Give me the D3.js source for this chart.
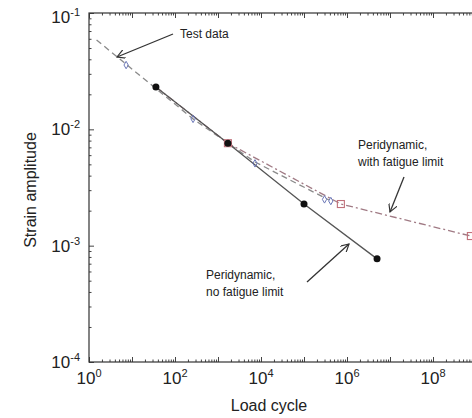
<!DOCTYPE html>
<html lang="en">
<head>
<meta charset="utf-8">
<title>Strain amplitude vs load cycle</title>
<style>
  body { margin: 0; background: #fff; }
  svg { display: block; font-family: "Liberation Sans", Arial, sans-serif; }
  .frame { fill: none; stroke: #333; stroke-width: 1.2px; }
  .tick line { stroke: #444; }
  .domain { display: none; }
  .ticklab { font-size: 17px; fill: #222; }
  .note { font-size: 12px; fill: #222; }
  .axlab { font-size: 16px; fill: #222; }
</style>
<script src="https://d3js.org/d3.v7.min.js"></script>
</head>
<body>
<script>
// Peridynamic, no fatigue limit (solid line, black dots)
const cyclesNoLimit = [36, 1700, 1.0e5, 5.0e6];
const strainNoLimit = [0.0231, 0.0076, 0.00228, 0.00077];

// Peridynamic, with fatigue limit (dash-dot, red squares)
const cyclesLimit = [36, 1700, 7.2e5, 7.6e8];
const strainLimit = [0.0231, 0.0076, 0.00228, 0.00121];
const cyclesLimitMarks = [1700, 7.2e5, 7.6e8];
const strainLimitMarks = [0.0076, 0.00228, 0.00121];

// Test data fit (grey dashed) and test points
const cyclesFit = [1.5, 7.7, 263, 7250, 3.8e5];
const strainFit = [0.0586, 0.0357, 0.0123, 0.00524, 0.00247];
const cyclesTest = [7.3, 263, 7250, 3.0e5, 4.2e5];
const strainTest = [0.0357, 0.0123, 0.0051, 0.0025, 0.00242];

const xMajor = [1, 1e2, 1e4, 1e6, 1e8];
const xMajorExp = ["0", "2", "4", "6", "8"];
const yMajor = [1e-1, 1e-2, 1e-3, 1e-4];
const yMajorExp = ["-1", "-2", "-3", "-4"];

const width = 472, height = 418;
const svg = d3.select("body").append("svg")
    .attr("width", width)
    .attr("height", height);

const x = d3.scaleLog().domain([1, 1e10]).range([89, 519]);
const y = d3.scaleLog().domain([1e-4, 1e-1]).range([362, 13]);

// tick positions
const xDec = d3.range(0, 11).map(e => Math.pow(10, e));
const xMinor = [];
xDec.slice(0, 10).forEach(d => { for (let k = 2; k <= 9; k++) xMinor.push(d * k); });
const yDec = [1e-4, 1e-3, 1e-2, 1e-1];
const yMinor = [];
yDec.slice(0, 3).forEach(d => { for (let k = 2; k <= 9; k++) yMinor.push(d * k); });

const y0 = y.range()[0], y1 = y.range()[1], x0 = x.range()[0], x1 = x.range()[1];

function ticks(g, axis) { g.call(axis).call(s => s.selectAll("text").remove()); }

svg.append("g").attr("transform", `translate(0,${y0})`)
    .call(ticks, d3.axisBottom(x).tickValues(xMinor).tickSize(-2.5));
svg.append("g").attr("transform", `translate(0,${y0})`)
    .call(ticks, d3.axisBottom(x).tickValues(xDec).tickSize(-5));
svg.append("g").attr("transform", `translate(0,${y1})`)
    .call(ticks, d3.axisTop(x).tickValues(xMinor).tickSize(-2.5));
svg.append("g").attr("transform", `translate(0,${y1})`)
    .call(ticks, d3.axisTop(x).tickValues(xDec).tickSize(-5));
svg.append("g").attr("transform", `translate(${x0},0)`)
    .call(ticks, d3.axisLeft(y).tickValues(yMinor).tickSize(-2.5));
svg.append("g").attr("transform", `translate(${x0},0)`)
    .call(ticks, d3.axisLeft(y).tickValues(yDec).tickSize(-5));

svg.append("rect").attr("class", "frame")
    .attr("x", x0).attr("y", y1)
    .attr("width", x1 - x0).attr("height", y0 - y1);

// tick labels with superscripts
xMajor.forEach((v, i) => {
  const t = svg.append("text").attr("class", "ticklab")
      .attr("x", x(v)).attr("y", 384).attr("text-anchor", "middle");
  t.append("tspan").text("10");
  t.append("tspan").attr("dy", -7).style("font-size", "11px").text(xMajorExp[i]);
});
yMajor.forEach((v, i) => {
  const t = svg.append("text").attr("class", "ticklab")
      .attr("x", 80).attr("y", y(v) + (i === 0 ? 10 : 6)).attr("text-anchor", "end");
  t.append("tspan").text("10");
  t.append("tspan").attr("dy", -7).style("font-size", "11px").text(yMajorExp[i]);
});

// axis titles
svg.append("text").attr("class", "axlab")
    .attr("x", 269).attr("y", 411).attr("text-anchor", "middle").text("Load cycle");
svg.append("text").attr("class", "axlab")
    .attr("transform", "translate(36,190) rotate(-90)")
    .attr("text-anchor", "middle").text("Strain amplitude");

const line = d3.line().x(d => x(d[0])).y(d => y(d[1]));
const zip = (a, b) => a.map((v, i) => [v, b[i]]);

const plot = svg.append("g");

plot.append("path").datum(zip(cyclesFit, strainFit))
    .attr("d", line).attr("fill", "none")
    .attr("stroke", "#8a8a8a").attr("stroke-width", 1.3)
    .attr("stroke-dasharray", "6,4");

plot.append("path").datum(zip(cyclesLimit, strainLimit))
    .attr("d", line).attr("fill", "none")
    .attr("stroke", "#a07a84").attr("stroke-width", 1.3)
    .attr("stroke-dasharray", "7,3,2,3");

plot.append("path").datum(zip(cyclesNoLimit, strainNoLimit))
    .attr("d", line).attr("fill", "none")
    .attr("stroke", "#555").attr("stroke-width", 1.3);

plot.selectAll(".test").data(zip(cyclesTest, strainTest)).enter()
    .append("path").attr("class", "test")
    .attr("transform", d => `translate(${x(d[0])},${y(d[1])})`)
    .attr("d", d3.symbol(d3.symbolDiamond, 16))
    .attr("fill", "none").attr("stroke", "#6c78b8").attr("stroke-width", 1);

plot.selectAll(".sq").data(zip(cyclesLimitMarks, strainLimitMarks)).enter()
    .append("rect").attr("class", "sq")
    .attr("x", d => x(d[0]) - 3.5).attr("y", d => y(d[1]) - 3.5)
    .attr("width", 7).attr("height", 7)
    .attr("fill", "none").attr("stroke", "#c0707a").attr("stroke-width", 1.1);

plot.selectAll(".dot").data(zip(cyclesNoLimit, strainNoLimit)).enter()
    .append("circle").attr("class", "dot")
    .attr("cx", d => x(d[0])).attr("cy", d => y(d[1]))
    .attr("r", 3.5).attr("fill", "#111");

// annotations
svg.append("defs").append("marker")
    .attr("id", "arr").attr("viewBox", "0 0 10 10")
    .attr("refX", 9).attr("refY", 5)
    .attr("markerWidth", 9).attr("markerHeight", 9)
    .attr("markerUnits", "userSpaceOnUse")
    .attr("orient", "auto")
  .append("path").attr("d", "M0,0 L9,5 L0,10")
    .attr("fill", "none").attr("stroke", "#333").attr("stroke-width", 1.3);

const arrows = [
  [[173, 34], [117, 57]],
  [[404, 177], [390, 212]],
  [[307, 282], [349, 244]]
];
svg.selectAll(".arrow").data(arrows).enter()
    .append("line").attr("class", "arrow")
    .attr("x1", d => d[0][0]).attr("y1", d => d[0][1])
    .attr("x2", d => d[1][0]).attr("y2", d => d[1][1])
    .attr("stroke", "#333").attr("stroke-width", 1.3)
    .attr("marker-end", "url(#arr)");

const notes = [
  [180, 38, "Test data"],
  [358, 149, "Peridynamic,"],
  [358, 166, "with fatigue limit"],
  [206, 279, "Peridynamic,"],
  [206, 296, "no fatigue limit"]
];
svg.selectAll(".note").data(notes).enter()
    .append("text").attr("class", "note")
    .attr("x", d => d[0]).attr("y", d => d[1]).text(d => d[2]);
</script>
</body>
</html>
